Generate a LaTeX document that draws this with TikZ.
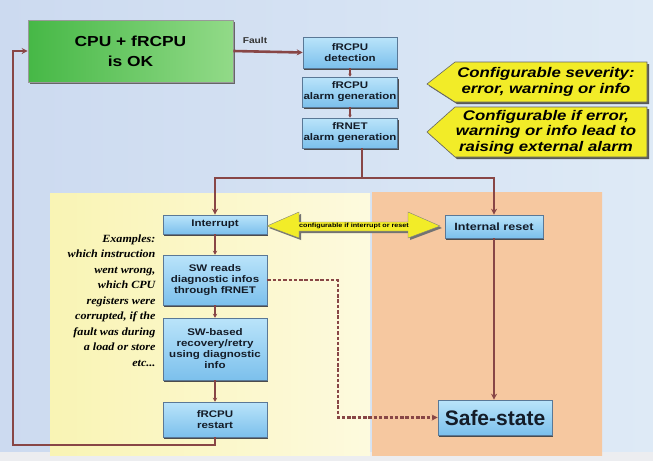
\documentclass[tikz,border=0pt]{standalone}
\usepackage{fontspec}
\setmainfont{Liberation Sans}[FakeStretch=1.2]
\newfontfamily\plainsans{Liberation Sans}
\newfontfamily\noteserif{Liberation Serif}[FakeStretch=1.1]
\usetikzlibrary{arrows.meta,calc,shadows}

\definecolor{bgblue}{RGB}{204,218,240}
\definecolor{bgright}{RGB}{222,234,246}
\definecolor{bgpale}{RGB}{248,250,253}
\definecolor{wire}{RGB}{136,70,70}
\definecolor{boxtop}{RGB}{186,228,250}
\definecolor{boxbot}{RGB}{124,192,236}
\definecolor{boxedge}{RGB}{90,120,150}
\definecolor{okdark}{RGB}{70,184,70}
\definecolor{oklight}{RGB}{146,218,136}
\definecolor{callyellow}{RGB}{242,236,40}
\definecolor{panelyl}{RGB}{249,244,180}
\definecolor{panelyr}{RGB}{253,250,222}
\definecolor{panelol}{RGB}{246,200,160}
\definecolor{panelom}{RGB}{251,224,198}
\definecolor{textdark}{RGB}{20,28,40}

\tikzset{
  stepbox/.style={draw=boxedge, line width=0.6pt, top color=boxtop, bottom color=boxbot,
    align=center, inner sep=1pt, text=textdark,
    font=\bfseries\fontsize{9.6}{11}\selectfont,
    general shadow={fill=black!70, shadow xshift=1.4pt, shadow yshift=-1.8pt}},
  conn/.style={draw=wire, line width=2.6pt},
  tip/.style={-{Stealth[length=6pt,width=6pt]}},
  smalltip/.style={-{Stealth[length=4pt,width=4.5pt]}},
  dashconn/.style={draw=wire, line width=2.4pt, dash pattern=on 3.5pt off 1.8pt},
  callout/.style={fill=callyellow, draw=black!60, line width=0.6pt},
  calloutshade/.style={fill=black!65},
  calltext/.style={font=\bfseries\itshape\fontsize{14}{15.5}\selectfont, align=center, text=black},
}

\begin{document}
\begin{tikzpicture}[x=1pt,y=-1pt]
\useasboundingbox (0,0) rectangle (653,461);

% backdrop
\shade[left color=bgblue, middle color=bgpale, right color=bgright] (0,0) rectangle (653,452);
\fill[black!5!bgpale] (0,452) rectangle (653,461);

% the two panels
\shade[left color=panelyl, right color=panelyr] (50,193) rectangle (370,455);
\shade[left color=panelol, middle color=panelom, right color=panelol] (372,192) rectangle (602,455);

% status box
\node[draw=black!40, line width=0.6pt, left color=okdark, right color=oklight,
      minimum width=205pt, minimum height=62pt, align=center,
      font=\bfseries\fontsize{14.5}{20}\selectfont,
      general shadow={fill=black!60, shadow xshift=1.5pt, shadow yshift=-2pt}]
  (ok) at (130.5,51) {CPU + fRCPU\\is OK};

% alarm chain
\node[stepbox, minimum width=94pt, minimum height=31pt] (det) at (350,52.5) {fRCPU\\detection};
\node[stepbox, minimum width=94pt, minimum height=30pt] (ag1) at (350,92) {fRCPU\\alarm generation};
\node[stepbox, minimum width=94pt, minimum height=30pt] (ag2) at (350,133) {fRNET\\alarm generation};

% callouts
\fill[calloutshade] (429,86) -- (457,64) -- (649,64) -- (649,104) -- (457,104) -- cycle;
\draw[callout] (427,84) -- (455,62) -- (647,62) -- (647,102) -- (455,102) -- cycle;
\node[calltext] (sev) at (546,82) {Configurable severity:\\error, warning or info};
\fill[calloutshade] (429,134) -- (457,109) -- (649,109) -- (649,159) -- (457,159) -- cycle;
\draw[callout] (427,132) -- (455,107) -- (647,107) -- (647,157) -- (455,157) -- cycle;
\node[calltext] (ext) at (546,132) {Configurable if error,\\warning or info lead to\\raising external alarm};

% software path
\node[stepbox, minimum width=104pt, minimum height=19pt] (int) at (215,224.5) {Interrupt};
\node[stepbox, minimum width=104pt, minimum height=50pt] (sw) at (215,280) {SW reads\\diagnostic infos\\through fRNET};
\node[stepbox, minimum width=104pt, minimum height=62pt] (rec) at (215,349) {SW-based\\recovery/retry\\using diagnostic\\info};
\node[stepbox, minimum width=104pt, minimum height=35pt] (rst) at (215,419.5) {fRCPU\\restart};

% hardware path
\node[stepbox, minimum width=98pt, minimum height=23pt, font=\bfseries\fontsize{10.5}{12}\selectfont] (ires) at (494,226.5) {Internal reset};
\node[stepbox, minimum width=114pt, minimum height=35pt, font=\plainsans\bfseries\fontsize{21}{24}\selectfont] (safe) at (495,417.5) {Safe-state};

% interrupt / reset choice
\fill[black!55] (269,228) -- (301,214) -- (301,224) -- (410,224) -- (410,214) -- (442,228) -- (410,240) -- (410,233) -- (301,233) -- (301,240) -- cycle;
\draw[fill=callyellow, draw=black!50, line width=0.4pt] (267,226) -- (299,212) -- (299,222) -- (408,222) -- (408,212) -- (440,226) -- (408,238) -- (408,231) -- (299,231) -- (299,238) -- cycle;
\node[font=\bfseries\fontsize{6}{7}\selectfont, text=black] (choice) at (354,226) {configurable if interrupt or reset};

% examples
\node[anchor=north east, align=right, font=\noteserif\bfseries\itshape\fontsize{11}{15.5}\selectfont, text=black]
  (ex) at (159,231) {Examples:\\which instruction\\went wrong,\\which CPU\\registers were\\corrupted, if the\\fault was during\\a load or store\\etc...};

% connectors
\node[font=\bfseries\fontsize{8.5}{10}\selectfont, text=black!80] (fault) at (255,40) {Fault};
\draw[conn, tip] (ok.east) -- (det.west);
\draw[conn, line width=1.4pt, -{Stealth[length=3pt,width=3.5pt]}] (det.south) -- (ag1.north);
\draw[conn, line width=1.4pt, -{Stealth[length=3pt,width=3.5pt]}] (ag1.south) -- (ag2.north);

\coordinate (split) at (362,178);
\draw[conn] ([xshift=12pt]ag2.south) -- (split);
\draw[conn, tip] (split) -- (int.north |- split) -- (int.north);
\draw[conn, tip] (split) -- (ires.north |- split) -- (ires.north);

\draw[conn, line width=2pt, smalltip] (int.south) -- (sw.north);
\draw[conn, line width=2pt, smalltip] (sw.south) -- (rec.north);
\draw[conn, line width=2pt, smalltip] (rec.south) -- (rst.north);

\coordinate (loopcol) at (13,445);
\draw[conn, tip] (rst.south) -- (rst.south |- loopcol) -- (loopcol) -- (loopcol |- ok.west) -- (ok.west);

\draw[conn, tip] (ires.south) -- (ires.south |- safe.north);

\coordinate (dcol) at (338,300);
\draw[dashconn, tip] (sw.east) -- (sw.east -| dcol) -- (dcol |- safe.west) -- (safe.west);
\end{tikzpicture}
\end{document}
